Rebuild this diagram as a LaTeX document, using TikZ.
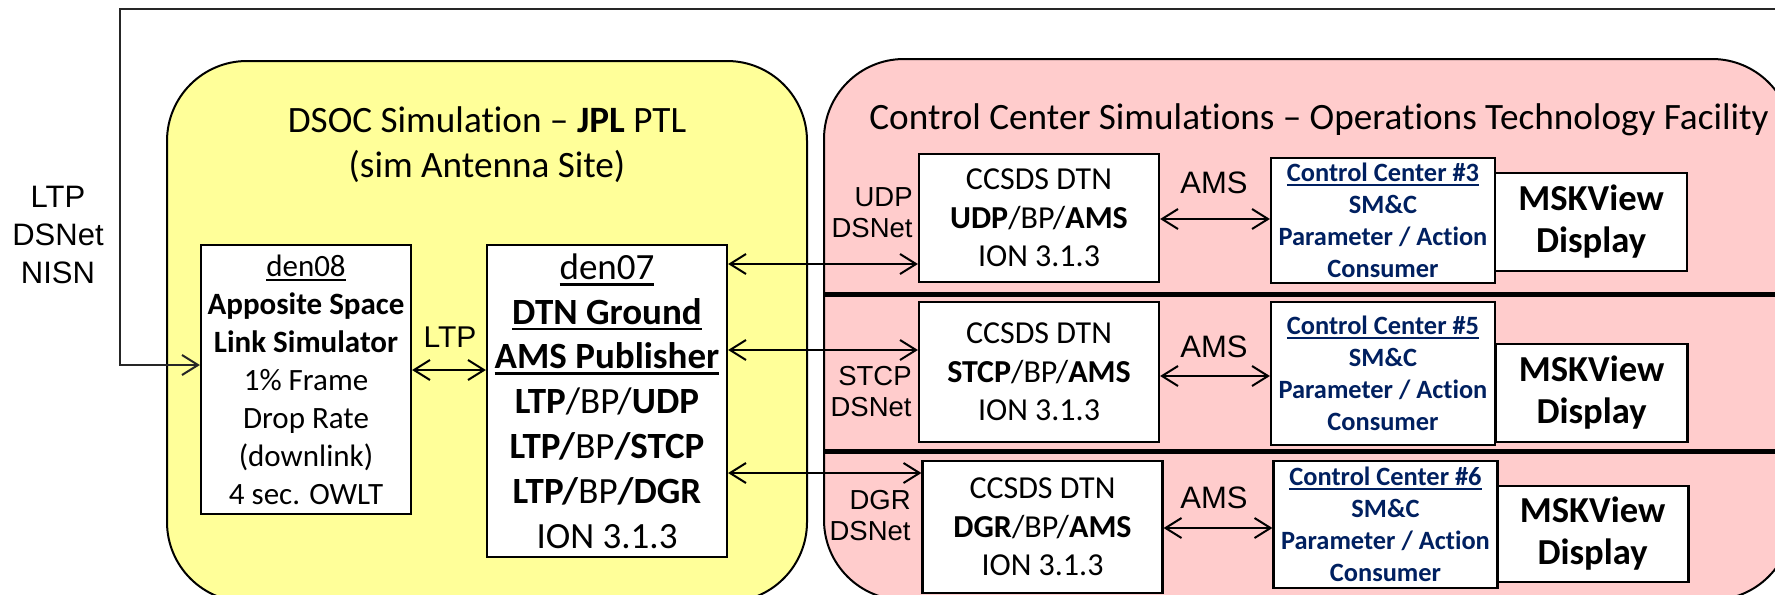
\documentclass[tikz,border=0pt]{standalone}
\usepackage{fontspec}
\setmainfont{Carlito}[Ligatures=NoCommon]
\newfontfamily\arialfont{Liberation Sans}
\usetikzlibrary{arrows.meta,calc}
\definecolor{simyellow}{HTML}{FFFF99}
\definecolor{simpink}{HTML}{FFCCCC}
\definecolor{ccnavy}{HTML}{002060}
% underline with a rule that scales with the font
\newcommand{\undl}[1]{\setbox0=\hbox{#1}\leavevmode\rlap{\rule[-0.17em]{\wd0}{0.075em}}\box0}
\begin{document}
\begin{tikzpicture}[x=0.5pt,y=-0.5pt,
  box/.style={draw=black,line width=1.1pt,fill=white,align=center,inner sep=0pt},
  tip/.tip={Straight Barb[length=8pt,width=10pt]},
  link/.style={line width=1pt,tip-tip},
  feed/.style={line width=1pt,-tip},
  tag/.style={font={\arialfont\fontsize{15.5pt}{19pt}\selectfont},align=center,inner sep=0pt},
  smalltag/.style={font={\arialfont\fontsize{13.75pt}{15.5pt}\selectfont},align=right,inner sep=0pt,anchor=east},
  region/.style={draw=black,line width=1pt,rounded corners=40pt},
  title/.style={font={\fontsize{18.6pt}{22.5pt}\selectfont},align=center,inner sep=0pt},
  sim/.style={box,font={\fontsize{15.5pt}{19pt}\selectfont}},
  pub/.style={box,font={\fontsize{18.5pt}{22.4pt}\selectfont}},
  dtn/.style={box,font={\fontsize{16pt}{19.25pt}\selectfont},minimum width=120pt},
  ctl/.style={box,font={\fontsize{13.2pt}{15.9pt}\selectfont\bfseries},text=ccnavy,minimum width=112pt},
  msk/.style={box,font={\fontsize{18.3pt}{21pt}\selectfont\bfseries},minimum width=96pt,minimum height=49pt},
  divider/.style={draw=black,line width=2.5pt}
]
\path[use as bounding box,clip] (0,0) rectangle (1775,594);
\fill[white] (0,0) rectangle (1775,594);

% site regions
\draw[region,fill=simyellow] (167,61) rectangle (807,602);
\draw[region,fill=simpink] (824,59) rectangle (1792,600);
\draw[divider] (824,294) -- (1800,294);
\draw[divider] (824,451) -- (1800,451);

% region titles
\node[title] (ytitle) at (487,145) {DSOC Simulation -- \textbf{JPL} PTL\\(sim Antenna Site)};
\node[title] (ptitle) at (1319,120) {Control Center Simulations -- Operations Technology Facility};

% DSOC side
\node[sim,minimum width=105pt,minimum height=134.5pt] (den08) at (306,379.5)
  {\undl{den08}\\\textbf{Apposite Space}\\\textbf{Link Simulator}\\1\% Frame\\Drop Rate\\(downlink)\\4 sec. OWLT};
\node[pub,minimum width=120pt,minimum height=156pt] (den07) at (607,401)
  {\undl{den07}\\\undl{\textbf{DTN Ground}}\\\undl{\textbf{AMS Publisher}}\\\textbf{LTP}/BP/\textbf{UDP}\\\textbf{LTP/}BP\textbf{/STCP}\\\textbf{LTP/}BP\textbf{/DGR}\\ION 3.1.3};

% control center rows
\node[dtn,minimum height=64pt] (cc1) at (1039,218) {CCSDS DTN\\\textbf{UDP}/BP/\textbf{AMS}\\ION 3.1.3};
\node[dtn,minimum height=70pt] (cc2) at (1039,372) {CCSDS DTN\\\textbf{STCP}/BP/\textbf{AMS}\\ION 3.1.3};
\node[dtn,minimum height=66pt] (cc3) at (1042.5,527) {CCSDS DTN\\\textbf{DGR}/BP/\textbf{AMS}\\ION 3.1.3};

\node[msk] (msk1) at (1591,222) {MSKView\\Display};
\node[msk] (msk2) at (1591.5,393) {MSKView\\Display};
\node[msk,minimum height=48pt] (msk3) at (1592.5,534) {MSKView\\Display};

\node[ctl,minimum height=62.5pt] (ctl3) at (1383,220.5) {\undl{Control Center \#3}\\SM\&C\\Parameter / Action\\Consumer};
\node[ctl,minimum height=71.5pt] (ctl5) at (1383,373.5) {\undl{Control Center \#5}\\SM\&C\\Parameter / Action\\Consumer};
\node[ctl,minimum height=63.5pt] (ctl6) at (1385.5,524.5) {\undl{Control Center \#6}\\SM\&C\\Parameter / Action\\Consumer};

% link labels
\node[tag] (ext) at (58,235) {LTP\\DSNet\\NISN};
\node[tag,font={\arialfont\fontsize{15pt}{18pt}\selectfont}] (ltp) at (450,337) {LTP};
\node[smalltag] (udp) at (913,212.5) {UDP\\DSNet};
\node[smalltag] (stcp) at (912,391.5) {STCP\\DSNet};
\node[smalltag] (dgr) at (911,516) {DGR\\DSNet};
\node[tag] (ams1) at (1214,183) {AMS};
\node[tag] (ams2) at (1214,347) {AMS};
\node[tag] (ams3) at (1214,498) {AMS};

% external feed into the link simulator
\coordinate (topR) at (1800,9);
\coordinate (topL) at (120,9);
\draw[feed,draw=black!85] (topR) -- (topL) |- ($(den08.west)+(0,-14.5)$);

% simulator to publisher
\draw[link] ($(den08.east)+(0,-9.5)$) coordinate (l0) -- (l0 -| den07.west);

% publisher to the control center DTN nodes
\draw[link] ($(den07.east)+(0,-137)$) -- ($(cc1.west)+(0,46)$);
\draw[link] ($(den07.east)+(0,-51)$) -- ($(cc2.west)+(0,-22)$);
\draw[link] ($(den07.east)+(0,72)$) -- ($(cc3.west)+(0,-54)$);

% AMS links
\draw[link] ($(cc1.east)+(0,1)$) coordinate (a1) -- (a1 -| ctl3.west);
\draw[link] ($(cc2.east)+(0,4)$) coordinate (a2) -- (a2 -| ctl5.west);
\draw[link] ($(cc3.east)+(0,1)$) coordinate (a3) -- (a3 -| ctl6.west);
\end{tikzpicture}
\end{document}
